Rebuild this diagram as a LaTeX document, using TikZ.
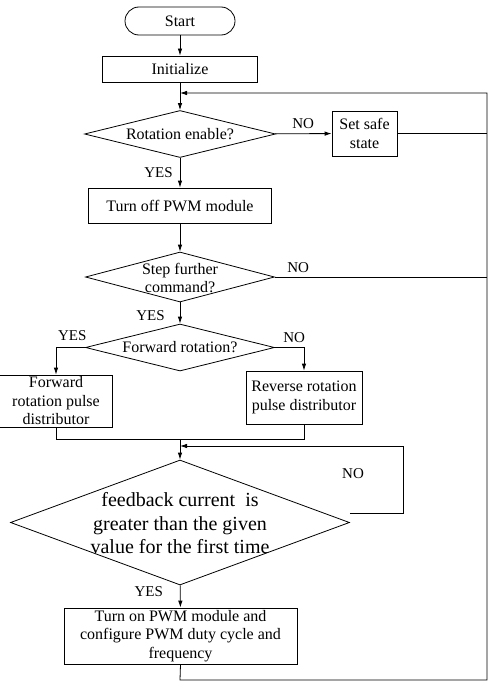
\documentclass[tikz,border=0pt]{standalone}
\usepackage{fontspec}
\setmainfont{Liberation Serif}
\usetikzlibrary{shapes.geometric,arrows.meta,calc}
\begin{document}
\begin{tikzpicture}[x=1pt,y=-1pt, line width=0.8pt, >={Latex[length=7pt,width=4.5pt]},
 box/.style={draw, rectangle, align=center, font=\fontsize{16}{18.5}\selectfont, inner sep=0pt},
 dia/.style={draw, diamond, inner sep=0pt},
 dtext/.style={align=center, font=\fontsize{16}{18.5}\selectfont, inner sep=0pt},
 lab/.style={font=\fontsize{15}{17}\selectfont, inner sep=0pt}]
\useasboundingbox (0,0) rectangle (490,685);
% nodes
\node[box, rounded corners=14pt, minimum width=110pt, minimum height=28pt] (start) at (180,21) {Start};
\node[box, minimum width=155pt, minimum height=26pt] (init) at (180,69) {Initialize};
\node[dia, minimum width=191pt, minimum height=47pt] (rot) at (180,134) {};
\node[dtext] (rott) at (rot.center) {Rotation enable?};
\node[box, minimum width=65pt, minimum height=45pt] (safe) at (364.5,133.5) {Set safe\\state};
\node[box, minimum width=183pt, minimum height=35pt] (off) at (180,205.5) {Turn off PWM module};
\node[dia, minimum width=189pt, minimum height=50pt] (step) at (180,277) {};
\node[dtext] (stept) at (180,278) {Step further\\command?};
\node[dia, minimum width=189pt, minimum height=47pt] (fwd) at (180,347.5) {};
\node[dtext] (fwdt) at (fwd.center) {Forward rotation?};
\node[box, minimum width=113pt, minimum height=52pt] (fbox) at (56,401) {Forward\\rotation pulse\\distributor};
\node[box, minimum width=116pt, minimum height=53pt] (rbox) at (304,397.5) {Reverse rotation\\pulse distributor};
\node[dia, minimum width=339pt, minimum height=125pt] (big) at (180,522.5) {};
\node[align=center, font=\fontsize{20}{23.5}\selectfont, inner sep=0pt] (bigt) at (180,523.5) {feedback current \ is\\greater than the given\\value for the first time};
\node[box, minimum width=233pt, minimum height=56pt] (final) at (180.5,636) {Turn on PWM module and\\configure PWM duty cycle and\\frequency};
% coordinates
\coordinate (top) at (180,93);
\coordinate (rtop) at (487,93);
\coordinate (rbot) at (487,680);
\coordinate (bl) at (180,680);
\coordinate (m) at (180,439);
\coordinate (lp) at (403,446);
\coordinate (lpe) at (180,446);
% connectors
\draw[->] (start) -- (init);
\draw[->] (init) -- (rot);
\draw[->] (rot) -- node[lab, above=5pt]{NO} (safe);
\draw[->] (rot) -- node[lab, left=7pt]{YES} (off);
\draw (safe.east) -- (safe.east -| rtop);
\draw[->] (off) -- (step);
\draw (step.east) -- node[lab, above=4pt, pos=0.11]{NO} (step.east -| rtop);
\draw[->] (step) -- node[lab, left=15pt, pos=0.6]{YES} (fwd);
\draw[->] (fwd.west) -| node[lab, above=6pt, pos=0.22]{YES} (fbox.north);
\draw[->] (fwd.east) -| node[lab, above=4pt, pos=0.33]{NO} (rbox.north);
\draw (fbox.south) |- (m);
\draw (rbox.south) |- (m);
\draw[->] (m) -- (big);
\draw[->] ($(big.east)+(0,-9)$) -| (lp) -- (lpe);
\node[lab] (nob) at (353,474) {NO};
\draw[->] (big) -- node[lab, left=17pt, pos=0.3]{YES} (final);
\draw[->] (final.south) -- (bl) -- (rbot) -- (rtop) -- (top);
\end{tikzpicture}
\end{document}
